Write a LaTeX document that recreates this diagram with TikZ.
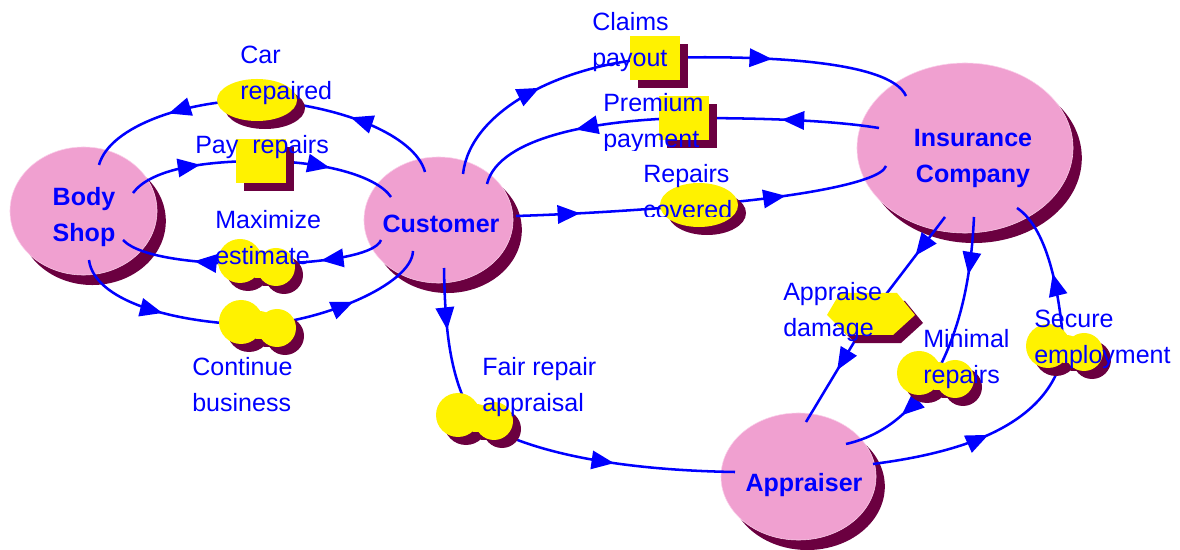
\documentclass[tikz,border=0pt]{standalone}
\usepackage{fontspec}
\setmainfont{Liberation Sans}
\usetikzlibrary{arrows.meta,decorations.markings,shadows,shapes.geometric}

\definecolor{agentpink}{RGB}{240,160,208}
\definecolor{agentrim}{RGB}{250,208,234}
\definecolor{shadowred}{RGB}{107,0,64}
\definecolor{flowblue}{RGB}{0,0,255}

\tikzset{
  agent/.style={ellipse, fill=agentpink, draw=agentrim, line width=0.4pt, inner sep=0pt,
    drop shadow={opacity=1, fill=shadowred, shadow xshift=0.22cm, shadow yshift=-0.25cm}},
  agentname/.style={font=\bfseries\fontsize{17.8pt}{26.3pt}\selectfont, text=flowblue,
    align=center, anchor=base, inner sep=0pt},
  lbl/.style={font=\fontsize{17.8pt}{26.3pt}\selectfont, text=flowblue,
    align=left, anchor=base west, inner sep=0pt},
  flow/.style={draw=flowblue, line width=1.8pt, postaction={decorate},
    decoration={markings, mark=at position #1 with {\arrow{Triangle[length=16pt,width=13pt]}}}},
  flow/.default=0.5,
  valve/.style={fill=yellow,
    drop shadow={opacity=1, fill=shadowred, shadow xshift=0.2cm, shadow yshift=-0.2cm}},
  boxvalve/.style={valve, rectangle, minimum width=1.25cm, minimum height=1.1cm, inner sep=0pt},
  ovalvalve/.style={valve, ellipse, minimum width=2cm, minimum height=1.05cm, inner sep=0pt}
}

% peanut shaped valve round a named coordinate
\newcommand{\cloudvalve}[1]{%
  \fill[valve] ([shift={(-16,-3)}]#1) circle[radius=22]
               ([shift={(20,3)}]#1) circle[radius=19]
               ([shift={(2,0)}]#1) ellipse[x radius=16, y radius=14];}

\begin{document}
\begin{tikzpicture}[x=0.025cm, y=-0.025cm]
\useasboundingbox (0,0) rectangle (1180,550);

% agents
\node[agent, minimum width=3.675cm, minimum height=3.2cm] (shop) at (83.5,211) {};
\node[agent, minimum width=3.725cm, minimum height=3.15cm] (cust) at (438.5,220) {};
\node[agent, minimum width=5.4cm, minimum height=4.25cm] (ins) at (965,148) {};
\node[agent, minimum width=3.875cm, minimum height=3.175cm] (appr) at (798.5,476.5) {};

% (base of a two line node = last line)
\node[agentname] (shopName) at (84,242) {Body\\Shop};
\node[agentname] (custName) at (441,233) {Customer};
\node[agentname] (insName) at (973,183) {Insurance\\Company};
\node[agentname] (apprName) at (804,492) {Appraiser};

% connector ends inside the agents
\coordinate (shopCar) at (99,165);
\coordinate (shopPay) at (133,193);
\coordinate (shopMax) at (123,240);
\coordinate (shopCont) at (89,260);
\coordinate (custCar) at (425,172);
\coordinate (custPay) at (391,197);
\coordinate (custMax) at (381,240);
\coordinate (custCont) at (413,251);
\coordinate (custFair) at (444,268);
\coordinate (custClaims) at (463,174);
\coordinate (custPrem) at (487,184);
\coordinate (custRep) at (516,216);
\coordinate (insClaims) at (906,96);
\coordinate (insPrem) at (879,128);
\coordinate (insRep) at (886,166);
\coordinate (insDam) at (945,217);
\coordinate (insMin) at (974,217);
\coordinate (insSec) at (1017,208);
\coordinate (apprFair) at (735,472);
\coordinate (apprDam) at (806,422);
\coordinate (apprMin) at (846,444);
\coordinate (apprSec) at (873,464);

% valves
\coordinate (vCar) at (257,100);
\coordinate (vPay) at (261,161);
\coordinate (vMax) at (256,264);
\coordinate (vCont) at (257,325);
\coordinate (vFair) at (474,418);
\coordinate (vClaims) at (655,58);
\coordinate (vPrem) at (684,118);
\coordinate (vRep) at (699,205);
\coordinate (vDam) at (871,314);
\coordinate (vMin) at (935,376);
\coordinate (vSec) at (1064,349);

% flows
\draw[flow] (custCar) .. controls +(-10,-37) and +(83,5) .. (vCar);
\draw[flow] (vCar) .. controls +(-67,0) and +(11,-40) .. (shopCar);
\draw[flow=0.55] (shopPay) .. controls +(17,-23) and +(-61,0) .. (vPay);
\draw[flow] (vPay) .. controls +(59,0) and +(-15,-22) .. (custPay);
\draw[flow] (custMax) .. controls +(-5,15) and +(64,0) .. (vMax);
\draw[flow=0.45] (vMax) .. controls +(-56,0) and +(17,18) .. (shopMax);
\draw[flow] (shopCont) .. controls +(5,40) and +(-87,-2) .. (vCont);
\draw[flow=0.55] (vCont) .. controls +(63,-3) and +(-1,34) .. (custCont);
\draw[flow=0.4] (custFair) .. controls +(1,62) and +(-24,-38) .. (vFair);
\draw[flow=0.55] (vFair) .. controls +(46,32) and +(-125,-2) .. (apprFair);
\draw[flow] (custClaims) .. controls +(7,-63) and +(-95,7) .. (vClaims);
\draw[flow=0.45] (vClaims) .. controls +(105,-3) and +(-16,-36) .. (insClaims);
\draw[flow] (insPrem) .. controls +(-50,-8) and +(76,0) .. (vPrem);
\draw[flow] (vPrem) .. controls +(-84,2) and +(12,-48) .. (custPrem);
\draw[flow=0.35] (custRep) .. controls +(63,-2) and +(-59,5) .. (vRep);
\draw[flow=0.45] (vRep) .. controls +(71,-5) and +(-6,19) .. (insRep);
\draw[flow=0.4] (insDam) -- (vDam);
\draw[flow=0.52] (vDam) -- (apprDam);
\draw[flow=0.35] (insMin) .. controls +(-3,63) and +(25,-46) .. (vMin);
\draw[flow=0.45] (vMin) .. controls +(-20,29) and +(44,-10) .. (apprMin);
\draw[flow] (apprSec) .. controls +(77,-10) and +(-14,81) .. (vSec);
\draw[flow] (vSec) .. controls +(-4,-49) and +(33,22) .. (insSec);

% valve shapes
\node[ovalvalve] (carValve) at (vCar) {};
\node[boxvalve] (payValve) at (vPay) {};
\node[boxvalve] (claimsValve) at (vClaims) {};
\node[boxvalve] (premValve) at (vPrem) {};
\node[ovalvalve, minimum width=1.95cm, minimum height=1.1cm] (repValve) at (vRep) {};
\cloudvalve{vMax}
\cloudvalve{vCont}
\cloudvalve{vFair}
\cloudvalve{vMin}
\cloudvalve{vSec}
\fill[valve] ([shift={(-31,-21)}]vDam) -- ([shift={(26,-21)}]vDam) -- ([shift={(44,1)}]vDam)
  -- ([shift={(22,21)}]vDam) -- ([shift={(-24,21)}]vDam) -- ([shift={(-44,1)}]vDam) -- cycle;

% labels
\node[lbl] (lCar) at (240,100) {Car\\repaired};
\node[lbl] (lPay) at (195,154) {Pay\ \ repairs};
\node[lbl] (lMax) at (215,265) {Maximize\\estimate};
\node[lbl] (lCont) at (192,412) {Continue\\business};
\node[lbl] (lFair) at (482,412) {Fair repair\\appraisal};
\node[lbl] (lClaims) at (592,67) {Claims\\payout};
\begin{scope}
  \clip (590,80) rectangle (740,151);
  \node[lbl] (lPrem) at (603,148) {Premium\\payment};
\end{scope}
\begin{scope}
  \clip (630,155) rectangle (760,217);
  \node[lbl] (lRep) at (643,219) {Repairs\\covered};
\end{scope}
\node[lbl] (lDam) at (783,337) {Appraise\\damage};
\node[lbl] (lMin) at (923,384) {Minimal\\repairs};
\node[lbl] (lSec) at (1034,364) {Secure\\employment};
\end{tikzpicture}
\end{document}
